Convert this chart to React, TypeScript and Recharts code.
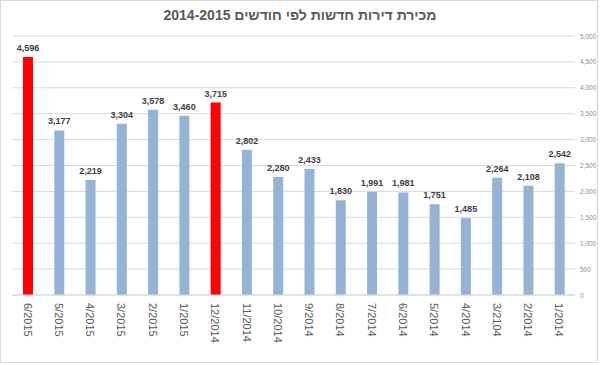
import React from 'react';
import { BarChart, Bar, XAxis, YAxis, CartesianGrid, Cell, LabelList } from 'recharts';

const months = ['6/2015','5/2015','4/2015','3/2015','2/2015','1/2015','12/2014','11/2014','10/2014','9/2014','8/2014','7/2014','6/2014','5/2014','4/2014','3/2104','2/2014','1/2014'];
const sales = [4596,3177,2219,3304,3578,3460,3715,2802,2280,2433,1830,1991,1981,1751,1485,2264,2108,2542];
const highlighted = ['6/2015','12/2014'];
const yTicks = [0,500,1000,1500,2000,2500,3000,3500,4000,4500,5000];
const title = 'מכירת דירות חדשות לפי חודשים 2014-2015';

const data = months.map((m, i) => ({ month: m, value: sales[i] }));

const FONT = '"Liberation Sans", Arial, sans-serif';
const fmt = (v: number) => v.toLocaleString('en-US');

const XTick = (props: any) => {
  const { x, y, payload } = props;
  return (
    <text
      x={x}
      y={y}
      transform={`rotate(90, ${x}, ${y})`}
      textAnchor="start"
      dominantBaseline="central"
      fontSize={11}
      fontFamily={FONT}
      fill="#595959"
    >
      {payload.value}
    </text>
  );
};

const YTick = (props: any) => {
  const { x, y, payload } = props;
  return (
    <text x={x + 5} y={y} textAnchor="start" dominantBaseline="central" fontSize={6.5} fontFamily={FONT} fill="#8C8C8C">
      {fmt(payload.value)}
    </text>
  );
};

export default function App() {
  return (
    <div style={{ position: 'absolute', left: 0, top: 0, width: 600, height: 365, background: '#fff' }}>
      <div style={{ position: 'absolute', left: 0, top: 0, width: 598, height: 363, border: '1px solid #D9D9D9', boxSizing: 'border-box' }} />
      <div style={{ position: 'absolute', left: 0, top: 0 }}>
        <BarChart width={600} height={365} data={data} margin={{ top: 36, right: 0, bottom: 8, left: 12 }} barCategoryGap={0}>
          <text x={300} y={15} textAnchor="middle" dominantBaseline="central" fontSize={14} fontWeight="bold" fontFamily={FONT} fill="#595959">
            {title}
          </text>
          <CartesianGrid vertical={false} stroke="#D9D9D9" />
          <XAxis dataKey="month" interval={0} height={62} tick={<XTick />} tickLine={false} axisLine={{ stroke: '#D9D9D9' }} tickSize={0} tickMargin={8} />
          <YAxis orientation="right" width={25} domain={[0, 5000]} ticks={yTicks} tick={<YTick />} tickLine={false} axisLine={false} tickSize={0} tickMargin={0} />
          <Bar dataKey="value" barSize={10} isAnimationActive={false}>
            {data.map((d) => (
              <Cell key={d.month} fill={highlighted.includes(d.month) ? '#FF0000' : '#95B3D7'} />
            ))}
            <LabelList dataKey="value" position="top" offset={6} formatter={(v: any) => fmt(Number(v))} fontSize={9} fontWeight="bold" fontFamily={FONT} fill="#404040" />
          </Bar>
        </BarChart>
      </div>
    </div>
  );
}
